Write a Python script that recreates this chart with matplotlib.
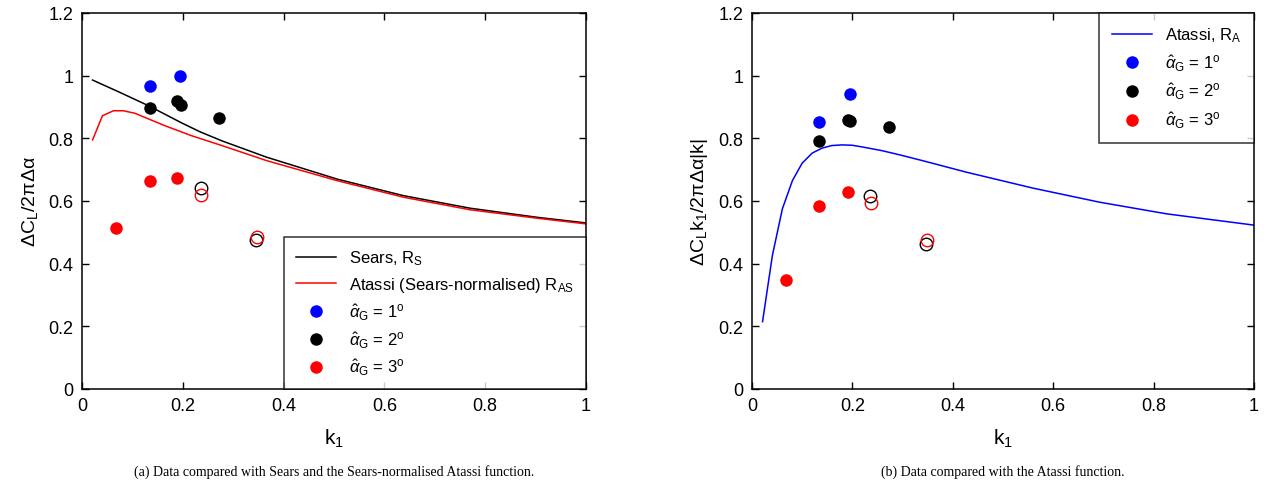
import numpy as np
import matplotlib.pyplot as plt

plt.rcParams['font.family'] = ['Liberation Sans', 'DejaVu Sans']
plt.rcParams['mathtext.fontset'] = 'custom'
plt.rcParams['mathtext.rm'] = 'Liberation Sans'
plt.rcParams['mathtext.it'] = 'Liberation Sans:italic'

# curves
sears_k = [0.021, 0.076, 0.132, 0.198, 0.234, 0.2775, 0.366, 0.506, 0.638, 0.77, 0.903, 1.0]
sears_r = [0.986, 0.946, 0.904, 0.849, 0.821, 0.792, 0.740, 0.670, 0.617, 0.577, 0.548, 0.530]
atassi_s_k = [0.021, 0.0405, 0.0624, 0.082, 0.105, 0.165, 0.218, 0.2775, 0.366, 0.506,
              0.638, 0.77, 0.903, 1.0]
atassi_s_r = [0.795, 0.872, 0.888, 0.888, 0.880, 0.840, 0.808, 0.777, 0.729, 0.665,
              0.612, 0.572, 0.545, 0.527]
atassi_k = [0.021, 0.0406, 0.0605, 0.0805, 0.100, 0.120, 0.140, 0.159, 0.179, 0.199, 0.218,
            0.258, 0.295, 0.344, 0.427, 0.56, 0.693, 0.826, 1.0]
atassi_r = [0.215, 0.426, 0.575, 0.665, 0.721, 0.753, 0.769, 0.777, 0.779, 0.778, 0.773,
            0.761, 0.747, 0.727, 0.692, 0.641, 0.596, 0.559, 0.523]

# measured points, (a) panel
a1_k = [0.134, 0.195]
a1_v = [0.967, 1.0]
a2_k = [0.134, 0.188, 0.196, 0.272]
a2_v = [0.896, 0.919, 0.906, 0.864]
a3_k = [0.067, 0.134, 0.189]
a3_v = [0.513, 0.663, 0.672]
a2o_k = [0.237, 0.345]
a2o_v = [0.640, 0.476]
a3o_k = [0.237, 0.348]
a3o_v = [0.619, 0.486]

# measured points, (b) panel
b1_k = [0.133, 0.196]
b1_v = [0.853, 0.941]
b2_k = [0.133, 0.191, 0.196, 0.273]
b2_v = [0.791, 0.858, 0.854, 0.835]
b3_k = [0.067, 0.133, 0.191]
b3_v = [0.347, 0.585, 0.629]
b2o_k = [0.236, 0.346]
b2o_v = [0.615, 0.462]
b3o_k = [0.238, 0.349]
b3o_v = [0.595, 0.477]

lab1 = r'$\hat{\alpha}_{\mathrm{G}}$ = 1$^{\mathrm{o}}$'
lab2 = r'$\hat{\alpha}_{\mathrm{G}}$ = 2$^{\mathrm{o}}$'
lab3 = r'$\hat{\alpha}_{\mathrm{G}}$ = 3$^{\mathrm{o}}$'

fig = plt.figure(figsize=(12.68, 4.89), dpi=100)
ax1 = fig.add_axes([82/1268, 1-390/489, 504/1268, 376/489])
ax2 = fig.add_axes([752/1268, 1-390/489, 502/1268, 376/489])

ms = 9

def points(ax, k1, v1, k2, v2, k3, v3, k2o, v2o, k3o, v3o):
    ax.plot(k1, v1, 'o', color='#0000ff', ms=ms, mec='none', label=lab1)
    ax.plot(k2, v2, 'o', color='k', ms=ms, mec='none', label=lab2)
    ax.plot(k3, v3, 'o', color='#ff0000', ms=ms, mec='none', label=lab3)
    ax.plot(k2o, v2o, 'o', mfc='none', mec='k', ms=ms, mew=1.0)
    ax.plot(k3o, v3o, 'o', mfc='none', mec='#ff0000', ms=ms, mew=1.0)

ax1.plot(sears_k, sears_r, color='k', lw=1.1, label=r'Sears, R$_{\mathrm{S}}$')
ax1.plot(atassi_s_k, atassi_s_r, color='#ff0000', lw=1.1,
         label=r'Atassi (Sears-normalised) R$_{\mathrm{AS}}$')
points(ax1, a1_k, a1_v, a2_k, a2_v, a3_k, a3_v, a2o_k, a2o_v, a3o_k, a3o_v)

ax2.plot(atassi_k, atassi_r, color='#0000ff', lw=1.1, label=r'Atassi, R$_{\mathrm{A}}$')
points(ax2, b1_k, b1_v, b2_k, b2_v, b3_k, b3_v, b2o_k, b2o_v, b3o_k, b3o_v)

for ax in [ax1, ax2]:
    ax.set_xlim(0, 1)
    ax.set_ylim(0, 1.2)
    ax.set_xticks([0, 0.2, 0.4, 0.6, 0.8, 1])
    ax.set_xticklabels(['0', '0.2', '0.4', '0.6', '0.8', '1'])
    ax.set_yticks([0, 0.2, 0.4, 0.6, 0.8, 1, 1.2])
    ax.set_yticklabels(['0', '0.2', '0.4', '0.6', '0.8', '1', '1.2'])
    ax.tick_params(direction='in', length=5, width=1, labelsize=13, top=True, right=True, pad=6)
    for s in ax.spines.values():
        s.set_linewidth(1.1)
    ax.set_xlabel(r'k$_{\mathrm{1}}$', fontsize=15, labelpad=9)

ax1.set_ylabel('ΔC$_{\\mathrm{L}}$/2πΔα', fontsize=14, labelpad=6)
ax2.set_ylabel('ΔC$_{\\mathrm{L}}$k$_{\\mathrm{1}}$/2πΔα|k|', fontsize=14, labelpad=6)

leg1 = ax1.legend(loc='lower right', fontsize=12, frameon=True, fancybox=False, edgecolor='k',
                  borderaxespad=0, handlelength=2.4, labelspacing=0.45, borderpad=0.7)
leg1.get_frame().set_linewidth(1.1)
leg2 = ax2.legend(loc='upper right', fontsize=12, frameon=True, fancybox=False, edgecolor='k',
                  borderaxespad=0, handlelength=2.4, labelspacing=0.5, borderpad=0.75)
leg2.get_frame().set_linewidth(1.1)

fig.text(334/1268, 1-472/489, '(a) Data compared with Sears and the Sears-normalised Atassi function.',
         ha='center', va='center', fontsize=10, family='Liberation Serif')
fig.text(1003/1268, 1-472/489, '(b) Data compared with the Atassi function.',
         ha='center', va='center', fontsize=10, family='Liberation Serif')

fig.savefig('out.png', dpi=100)
